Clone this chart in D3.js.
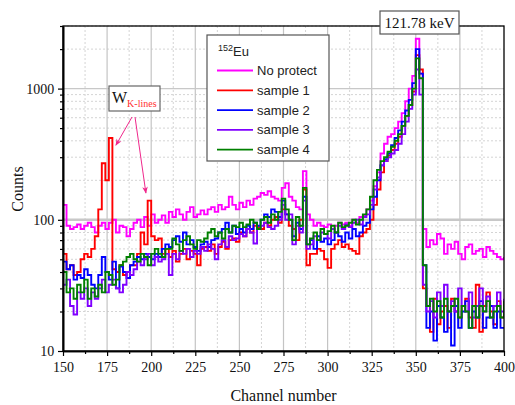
<!DOCTYPE html>
<html>
<head>
<meta charset="utf-8">
<script src="https://cdn.jsdelivr.net/npm/d3@7"></script>
<style>
    body { margin: 0; background: #fff; }
    svg { display: block; }
</style>
</head>
<body>
<div id="graph"></div>
<script>
// channel axis: one value every 2 channels, 150..400
var channels = d3.range(150, 401, 2);

var noProtect = [
    130, 90, 85, 88, 92, 85, 90, 95, 88, 80,
    90, 95, 85, 95, 100, 80, 90, 88, 75, 85,
    95, 100, 88, 105, 90, 110, 95, 100, 108, 95,
    115, 105, 120, 110, 100, 115, 125, 105, 110, 118,
    110, 120, 125, 115, 130, 120, 125, 150, 130, 120,
    135, 125, 140, 130, 145, 150, 160, 155, 165, 150,
    145, 140, 175, 190, 150, 140, 125, 120, 235, 110,
    100, 90, 95, 90, 88, 92, 85, 90, 95, 92,
    95, 90, 100, 95, 105, 108, 120, 140, 180, 230,
    320, 380, 430, 450, 500, 560, 650, 800, 1000, 1250,
    2400, 1300, 85, 62, 70, 65, 78, 72, 55, 65,
    60, 68, 55, 50, 62, 65, 55, 58, 60, 52,
    62, 58, 55, 52, 50, 52
];

var sample1 = [
    55, 42, 45, 38, 40, 50, 55, 52, 60, 75,
    120, 270, 200, 420, 42, 40, 45, 38, 40, 45,
    45, 55, 80, 65, 140, 75, 70, 72, 55, 60,
    52, 58, 48, 55, 60, 50, 58, 55, 45, 60,
    62, 58, 65, 55, 62, 68, 60, 70, 72, 68,
    80, 75, 85, 80, 90, 88, 85, 95, 90, 100,
    105, 95, 120, 110, 90, 85, 70, 100, 170, 45,
    55, 55, 60, 58, 50, 43, 60, 65, 70, 62,
    65, 60, 58, 55, 75, 80, 85, 100, 130, 170,
    230, 280, 310, 340, 380, 430, 520, 620, 750, 950,
    1800, 1400, 30, 22, 14, 25, 16, 20, 22, 15,
    25, 20, 18, 22, 25, 18, 15, 32, 14, 22,
    28, 20, 16, 24, 18, 20
];

var sample2 = [
    48, 42, 45, 35, 38, 36, 42, 38, 32, 30,
    38, 52, 40, 35, 48, 30, 44, 40, 36, 45,
    48, 52, 50, 55, 52, 50, 55, 52, 60, 65,
    62, 70, 75, 68, 80, 65, 70, 62, 58, 65,
    68, 62, 70, 72, 80, 85, 95, 80, 90, 78,
    85, 80, 90, 85, 95, 90, 100, 110, 105, 120,
    115, 105, 140, 110, 100, 75, 95, 85, 150, 65,
    70, 60, 75, 68, 72, 65, 70, 80, 75, 68,
    80, 72, 85, 75, 80, 90, 95, 120, 150, 200,
    260, 290, 320, 370, 420, 480, 560, 680, 820, 1100,
    2000, 1300, 45, 15, 20, 12, 22, 18, 14, 20,
    11, 22, 15, 20, 24, 15, 20, 18, 24, 15,
    18, 22, 15, 20, 15, 15
];

var sample3 = [
    32, 35, 22, 19, 28, 25, 30, 22, 28, 25,
    30, 35, 28, 32, 35, 30, 28, 32, 40, 38,
    42, 48, 45, 50, 55, 45, 52, 48, 50, 55,
    38, 55, 50, 58, 55, 60, 52, 58, 55, 62,
    58, 65, 60, 50, 65, 70, 62, 75, 70, 72,
    78, 75, 85, 80, 66, 85, 90, 95, 88, 85,
    90, 100, 130, 100, 110, 65, 90, 80, 140, 60,
    65, 75, 70, 80, 78, 72, 85, 80, 90, 85,
    92, 88, 95, 100, 92, 105, 110, 130, 170, 210,
    260, 280, 300, 320, 340, 380, 450, 560, 700, 900,
    1400, 900, 32, 20, 24, 18, 28, 22, 32, 20,
    24, 20, 30, 22, 20, 28, 18, 22, 30, 20,
    26, 18, 22, 28, 20, 25
];

var sample4 = [
    40, 28, 30, 25, 32, 28, 35, 25, 30, 26,
    32, 28, 40, 38, 32, 35, 45, 48, 52, 55,
    50, 48, 55, 52, 45, 55, 60, 55, 52, 60,
    60, 72, 65, 58, 70, 75, 65, 60, 70, 68,
    72, 80, 85, 75, 80, 72, 85, 80, 90, 88,
    95, 88, 92, 100, 95, 85, 100, 105, 95, 110,
    100, 115, 145, 120, 100, 70, 105, 90, 175, 65,
    72, 80, 70, 85, 78, 82, 90, 80, 95, 88,
    90, 95, 100, 92, 100, 110, 120, 150, 200, 240,
    280, 300, 330, 360, 400, 450, 520, 620, 750, 1000,
    1700, 1200, 45, 22, 25, 20, 24, 18, 25, 20,
    22, 25, 18, 22, 20, 15, 22, 18, 22, 20,
    24, 18, 20, 22, 18, 24
];

var seriesNames = ["No protect", "sample 1", "sample 2", "sample 3", "sample 4"];
var seriesValues = [noProtect, sample1, sample2, sample3, sample4];
var seriesColors = ["#ff00ff", "#ff0000", "#0000ff", "#8000ff", "#008000"];

var xTicks = [150, 175, 200, 225, 250, 275, 300, 325, 350, 375, 400];
var yTicks = [10, 100, 1000];

//矢印の先 (チャンネル, カウント)
var wArrowTips = [{ ch: 180, v: 370 }, { ch: 197, v: 160 }];

//グラフ全体のサイズ
var W = 515, H = 405;
var margin = { top: 26, right: 11, bottom: 54, left: 63 };
var width = W - margin.left - margin.right,
    height = H - margin.top - margin.bottom;

var svg = d3.select("#graph").append("svg")
    .attr("width", W).attr("height", H);

var g = svg.append("g")
    .attr("transform", "translate(" + margin.left + "," + margin.top + ")");

var xScale = d3.scaleLinear().domain([150, 400]).range([0, width]);
var yScale = d3.scaleLog().domain([10, 3000]).range([height, 0]);

//マイナー目盛り
var xMinor = d3.range(162.5, 400, 25);
var yMinor = [];
[10, 100, 1000].forEach(function (d) {
    for (var k = 2; k <= 9; k++) {
        if (d * k <= 3000) yMinor.push(d * k);
    }
});

//グリッド線
g.append("g").selectAll("line")
    .data(xMinor)
    .enter().append("line")
    .attr("x1", function (d) { return xScale(d); })
    .attr("x2", function (d) { return xScale(d); })
    .attr("y1", 0).attr("y2", height)
    .attr("stroke", "#d4d4d4").attr("stroke-dasharray", "2,2");

g.append("g").selectAll("line")
    .data(yMinor)
    .enter().append("line")
    .attr("x1", 0).attr("x2", width)
    .attr("y1", function (d) { return yScale(d); })
    .attr("y2", function (d) { return yScale(d); })
    .attr("stroke", "#d4d4d4").attr("stroke-dasharray", "2,2");

g.append("g").selectAll("line")
    .data(xTicks.slice(1, -1))
    .enter().append("line")
    .attr("x1", function (d) { return xScale(d); })
    .attr("x2", function (d) { return xScale(d); })
    .attr("y1", 0).attr("y2", height)
    .attr("stroke", "#c4c4c4").attr("stroke-width", 1.2);

g.append("g").selectAll("line")
    .data(yTicks.slice(1))
    .enter().append("line")
    .attr("x1", 0).attr("x2", width)
    .attr("y1", function (d) { return yScale(d); })
    .attr("y2", function (d) { return yScale(d); })
    .attr("stroke", "#c8c8c8")
    .attr("stroke-width", function (d) { return d == 100 ? 2.5 : 1.2; });

//スペクトル
g.append("clipPath").attr("id", "clip")
    .append("rect").attr("width", width).attr("height", height);

var line = d3.line()
    .curve(d3.curveStepAfter)
    .x(function (d) { return xScale(d[0]); })
    .y(function (d) { return yScale(d[1]); });

g.append("g").attr("clip-path", "url(#clip)")
    .selectAll("path")
    .data(seriesValues)
    .enter().append("path")
    .datum(function (vals) { return vals.map(function (v, i) { return [channels[i], v]; }); })
    .attr("fill", "none")
    .attr("stroke", function (d, i) { return seriesColors[i]; })
    .attr("stroke-width", 1.9)
    .attr("stroke-linejoin", "miter")
    .attr("d", line);

//枠
g.append("rect")
    .attr("width", width).attr("height", height)
    .attr("fill", "none").attr("stroke", "#000").attr("stroke-width", 1.3);

//x軸
var xAxis = g.append("g")
    .attr("transform", "translate(0," + height + ")")
    .call(d3.axisBottom(xScale).tickValues(xTicks).tickSize(5).tickSizeOuter(0).tickFormat(d3.format("d")));
g.append("g")
    .attr("transform", "translate(0," + height + ")")
    .call(d3.axisBottom(xScale).tickValues(xMinor).tickSize(3).tickSizeOuter(0).tickFormat(""));

//y軸
var yAxis = g.append("g")
    .call(d3.axisLeft(yScale).tickValues(yTicks).tickSize(5).tickSizeOuter(0).tickFormat(d3.format("d")));
g.append("g")
    .call(d3.axisLeft(yScale).tickValues(yMinor).tickSize(3).tickSizeOuter(0).tickFormat(""));

g.selectAll(".domain").attr("stroke", "#000").attr("stroke-width", 1.6);
g.selectAll(".tick line").attr("stroke", "#000").attr("stroke-width", 1.2);
g.selectAll(".tick text")
    .attr("font-family", "'Liberation Serif', 'Times New Roman', serif")
    .attr("font-size", 14)
    .attr("fill", "#111");
xAxis.selectAll(".tick text").attr("dy", "0.95em");
yAxis.selectAll(".tick text").attr("dx", "-0.05em");

//軸ラベル
svg.append("text")
    .attr("x", margin.left + width / 2).attr("y", 401)
    .attr("text-anchor", "middle")
    .attr("font-family", "'Liberation Serif', serif").attr("font-size", 16)
    .attr("fill", "#111")
    .text("Channel number");

svg.append("text")
    .attr("transform", "translate(23," + (margin.top + 163) + ") rotate(-90)")
    .attr("text-anchor", "middle")
    .attr("font-family", "'Liberation Serif', serif").attr("font-size", 16)
    .attr("fill", "#111")
    .text("Counts");

//凡例
var legend = svg.append("g").attr("transform", "translate(207,35)");
legend.append("rect")
    .attr("width", 122).attr("height", 126)
    .attr("fill", "#fff").attr("stroke", "#555").attr("stroke-width", 1.2);

var legTitle = legend.append("text")
    .attr("x", 11).attr("y", 21)
    .attr("font-family", "'Liberation Sans', Arial, sans-serif").attr("fill", "#222");
legTitle.append("tspan").attr("font-size", 9).attr("dy", "-5").text("152");
legTitle.append("tspan").attr("font-size", 13).attr("dy", "5").text("Eu");

var rows = legend.selectAll(".row")
    .data(seriesNames)
    .enter().append("g")
    .attr("class", "row")
    .attr("transform", function (d, i) { return "translate(0," + (35.5 + i * 19.8) + ")"; });

rows.append("line")
    .attr("x1", 10).attr("x2", 46)
    .attr("stroke", function (d, i) { return seriesColors[i]; })
    .attr("stroke-width", 1.8);

rows.append("text")
    .attr("x", 50).attr("dy", "0.35em")
    .attr("font-family", "'Liberation Sans', Arial, sans-serif").attr("font-size", 13)
    .attr("fill", "#222")
    .text(function (d) { return d; });

//W K線の注記
var arrowColor = "#f0288c";
svg.append("defs").append("marker")
    .attr("id", "arrow")
    .attr("viewBox", "0 0 10 10")
    .attr("refX", 9).attr("refY", 5)
    .attr("markerWidth", 7).attr("markerHeight", 7)
    .attr("orient", "auto")
    .append("path")
    .attr("d", "M0,1 L10,5 L0,9 L3,5 Z")
    .attr("fill", arrowColor);

svg.selectAll(".warrow")
    .data(wArrowTips)
    .enter().append("line")
    .attr("class", "warrow")
    .attr("x1", function (d, i) { return i == 0 ? 132 : 135; }).attr("y1", 117)
    .attr("x2", function (d) { return margin.left + xScale(d.ch); })
    .attr("y2", function (d) { return margin.top + yScale(d.v); })
    .attr("stroke", arrowColor).attr("stroke-width", 1)
    .attr("marker-end", "url(#arrow)");

var wBox = svg.append("g").attr("transform", "translate(109,86)");
wBox.append("rect")
    .attr("width", 51).attr("height", 25)
    .attr("fill", "#fff").attr("stroke", "#666").attr("stroke-width", 1.2);
var wText = wBox.append("text")
    .attr("x", 3).attr("y", 17)
    .attr("font-family", "'Liberation Serif', serif").attr("fill", "#111");
wText.append("tspan").attr("font-size", 16).text("W");
wText.append("tspan").attr("font-size", 10).attr("dy", "4").attr("fill", "#ff3030").text("K-lines");

//ピークラベル
var peakBox = svg.append("g").attr("transform", "translate(380,11)");
peakBox.append("rect")
    .attr("width", 79).attr("height", 23)
    .attr("fill", "#fff").attr("stroke", "#555").attr("stroke-width", 1.2);
peakBox.append("text")
    .attr("x", 39.5).attr("y", 17)
    .attr("text-anchor", "middle")
    .attr("font-family", "'Liberation Serif', serif").attr("font-size", 15)
    .attr("fill", "#111")
    .text("121.78 keV");
</script>
</body>
</html>
